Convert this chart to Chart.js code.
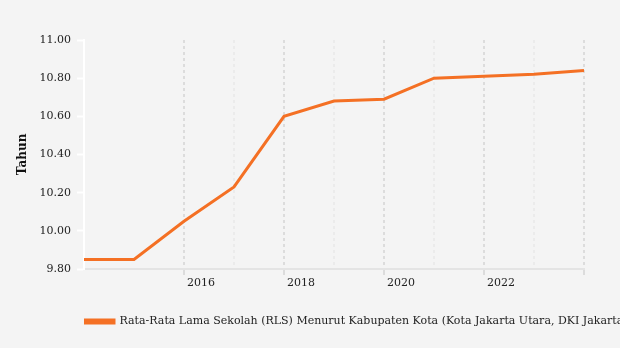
<!DOCTYPE html>
<html>
<head>
<meta charset="utf-8">
<script src="https://cdn.jsdelivr.net/npm/chart.js@4"></script>
<style>
  html, body { margin: 0; padding: 0; background: #f4f4f4; }
  #wrap { width: 620px; height: 348px; }
</style>
</head>
<body>
<div id="wrap"><canvas id="grafikRLS"></canvas></div>
<script>
// Rata-rata lama sekolah per tahun
const tahun = [2014, 2015, 2016, 2017, 2018, 2019, 2020, 2021, 2022, 2023, 2024];
const nilaiRLS = [9.85, 9.85, 10.05, 10.23, 10.60, 10.68, 10.69, 10.80, 10.81, 10.82, 10.84];
const labelTahun = [2016, 2018, 2020, 2022];
const namaSeri = "Rata-Rata Lama Sekolah (RLS) Menurut Kabupaten Kota (Kota Jakarta Utara, DKI Jakarta)";

const oranye = "#f47024";

Chart.defaults.font.family = "'DejaVu Serif', serif";
Chart.defaults.font.size = 11;
Chart.defaults.color = "#222";

// warna garis grid vertikal: tahun genap lebih gelap, tahun awal tanpa garis
function warnaGrid(ctx) {
  const th = tahun[ctx.index];
  if (th === undefined || th < 2016) return "rgba(0,0,0,0)";
  return th % 2 === 0 ? "#dcdcdc" : "#ebebeb";
}

function warnaTick(ctx) {
  const th = tahun[ctx.index];
  if (th === undefined || th < 2016 || th % 2 !== 0) return "rgba(0,0,0,0)";
  return "#dcdcdc";
}

// legenda dimulai di tepi kiri area grafik, tapi teksnya boleh sampai tepi kanan kanvas
const legendaLebar = {
  id: "legendaLebar",
  afterLayout(chart) {
    const lg = chart.legend;
    if (!lg) return;
    lg.right = chart.width;
    lg.width = lg.right - lg.left;
  }
};

new Chart(document.getElementById("grafikRLS"), {
  type: "line",
  data: {
    labels: tahun,
    datasets: [{
      label: namaSeri,
      data: nilaiRLS,
      borderColor: oranye,
      backgroundColor: oranye,
      borderWidth: 3,
      pointRadius: 0,
      tension: 0
    }]
  },
  options: {
    responsive: true,
    maintainAspectRatio: false,
    animation: false,
    layout: { padding: { top: 40, right: 36, bottom: 11, left: 0 } },
    scales: {
      x: {
        grid: {
          color: warnaGrid,
          lineWidth: 2,
          tickColor: warnaTick,
          tickWidth: 2,
          tickLength: 6
        },
        border: { color: "#e4e4e4", width: 2, dash: [3, 3] },
        ticks: {
          autoSkip: false,
          maxRotation: 0,
          align: "start",
          labelOffset: 3,
          padding: 2,
          callback: (v, i) => labelTahun.includes(tahun[i]) ? String(tahun[i]) : ""
        },
        afterFit: s => { s.height = 47; }
      },
      y: {
        min: 9.8,
        max: 11,
        grid: {
          drawOnChartArea: false,
          tickColor: "#ffffff",
          tickWidth: 2,
          tickLength: 7
        },
        border: { color: "#ffffff", width: 2 },
        ticks: {
          stepSize: 0.2,
          padding: 6,
          callback: v => v.toFixed(2)
        },
        title: {
          display: true,
          text: "Tahun",
          font: { size: 12, weight: "bold" },
          color: "#111",
          padding: { top: 16, bottom: 0 }
        },
        afterFit: s => { s.width = 84; }
      }
    },
    plugins: {
      legend: {
        position: "bottom",
        align: "start",
        fullSize: false,
        labels: {
          boxWidth: 30,
          boxHeight: 3,
          padding: 0,
          color: "#222",
          font: { size: 11 }
        }
      },
      tooltip: { enabled: false }
    }
  },
  plugins: [legendaLebar]
});
</script>
</body>
</html>
